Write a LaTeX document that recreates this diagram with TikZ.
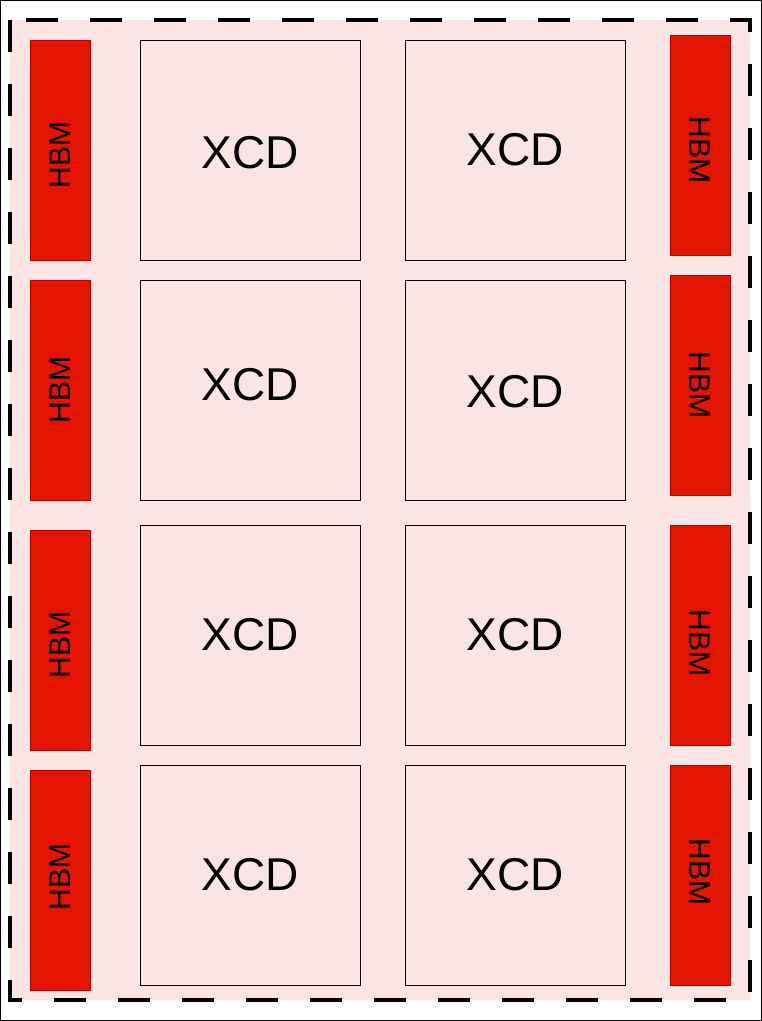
\documentclass[tikz,border=0pt]{standalone}
\usepackage{fontspec}
\setmainfont{Liberation Sans}
\usepackage{tikz}
\definecolor{diepink}{HTML}{FAE4E4}
\definecolor{hbmred}{HTML}{E31400}
\definecolor{hbmedge}{HTML}{B80000}
\tikzset{
	pkgdash/.style={dashed, dash pattern=on 32pt off 32pt, line width=3.5pt},
	xcdbox/.style={draw=black, line width=0.8pt, fill=diepink, minimum width=220pt, minimum height=220pt, inner sep=0pt},
	xcdtext/.style={font=\fontsize{46}{46}\selectfont},
	hbmbox/.style={draw=hbmedge, line width=0.8pt, fill=hbmred, minimum width=60pt, minimum height=220pt, inner sep=0pt},
	hbmtext/.style={font=\fontsize{30}{30}\selectfont}
}

\begin{document}
\begin{tikzpicture}[x=1pt, y=-1pt]
	\useasboundingbox (0, 0) rectangle (762, 1021);
	\draw[fill=white, line width=1.2pt] (0.6, 0.6) rectangle (761.4, 1020.4);
	\fill[diepink] (10, 20) rectangle (750, 1000);
	\draw[pkgdash] (10, 20) rectangle (750, 1000);
	% left stacks
	\node[hbmbox] (hbmL1) at (60.5, 150) {};
	\node[hbmbox] (hbmL2) at (60.5, 390) {};
	\node[hbmbox] (hbmL3) at (60.5, 640) {};
	\node[hbmbox] (hbmL4) at (60.5, 880) {};
	\node[hbmtext, rotate=90] at ([yshift=-5pt]hbmL1) {HBM};
	\node[hbmtext, rotate=90] at (hbmL2) {HBM};
	\node[hbmtext, rotate=90] at ([yshift=-5pt]hbmL3) {HBM};
	\node[hbmtext, rotate=90] at ([yshift=3pt]hbmL4) {HBM};
	% right stacks
	\node[hbmbox] (hbmR1) at (700, 145) {};
	\node[hbmbox] (hbmR2) at (700, 385) {};
	\node[hbmbox] (hbmR3) at (700, 635) {};
	\node[hbmbox] (hbmR4) at (700, 875) {};
	\node[hbmtext, rotate=-90] at ([yshift=-5pt]hbmR1) {HBM};
	\node[hbmtext, rotate=-90] at (hbmR2) {HBM};
	\node[hbmtext, rotate=-90] at ([yshift=-8pt]hbmR3) {HBM};
	\node[hbmtext, rotate=-90] at ([yshift=3pt]hbmR4) {HBM};
	% compute dies
	\node[xcdbox] (xcdL1) at (250, 150) {};
	\node[xcdbox] (xcdL2) at (250, 390) {};
	\node[xcdbox] (xcdL3) at (250, 635) {};
	\node[xcdbox] (xcdL4) at (250, 875) {};
	\node[xcdbox] (xcdR1) at (515, 150) {};
	\node[xcdbox] (xcdR2) at (515, 390) {};
	\node[xcdbox] (xcdR3) at (515, 635) {};
	\node[xcdbox] (xcdR4) at (515, 875) {};
	\node[xcdtext] at ([yshift=-3pt]xcdL1) {XCD};
	\node[xcdtext] at ([yshift=5pt]xcdL2) {XCD};
	\node[xcdtext] at (xcdL3) {XCD};
	\node[xcdtext] at (xcdL4) {XCD};
	\node[xcdtext] at (xcdR1) {XCD};
	\node[xcdtext] at ([yshift=-2pt]xcdR2) {XCD};
	\node[xcdtext] at (xcdR3) {XCD};
	\node[xcdtext] at (xcdR4) {XCD};
\end{tikzpicture}
\end{document}
